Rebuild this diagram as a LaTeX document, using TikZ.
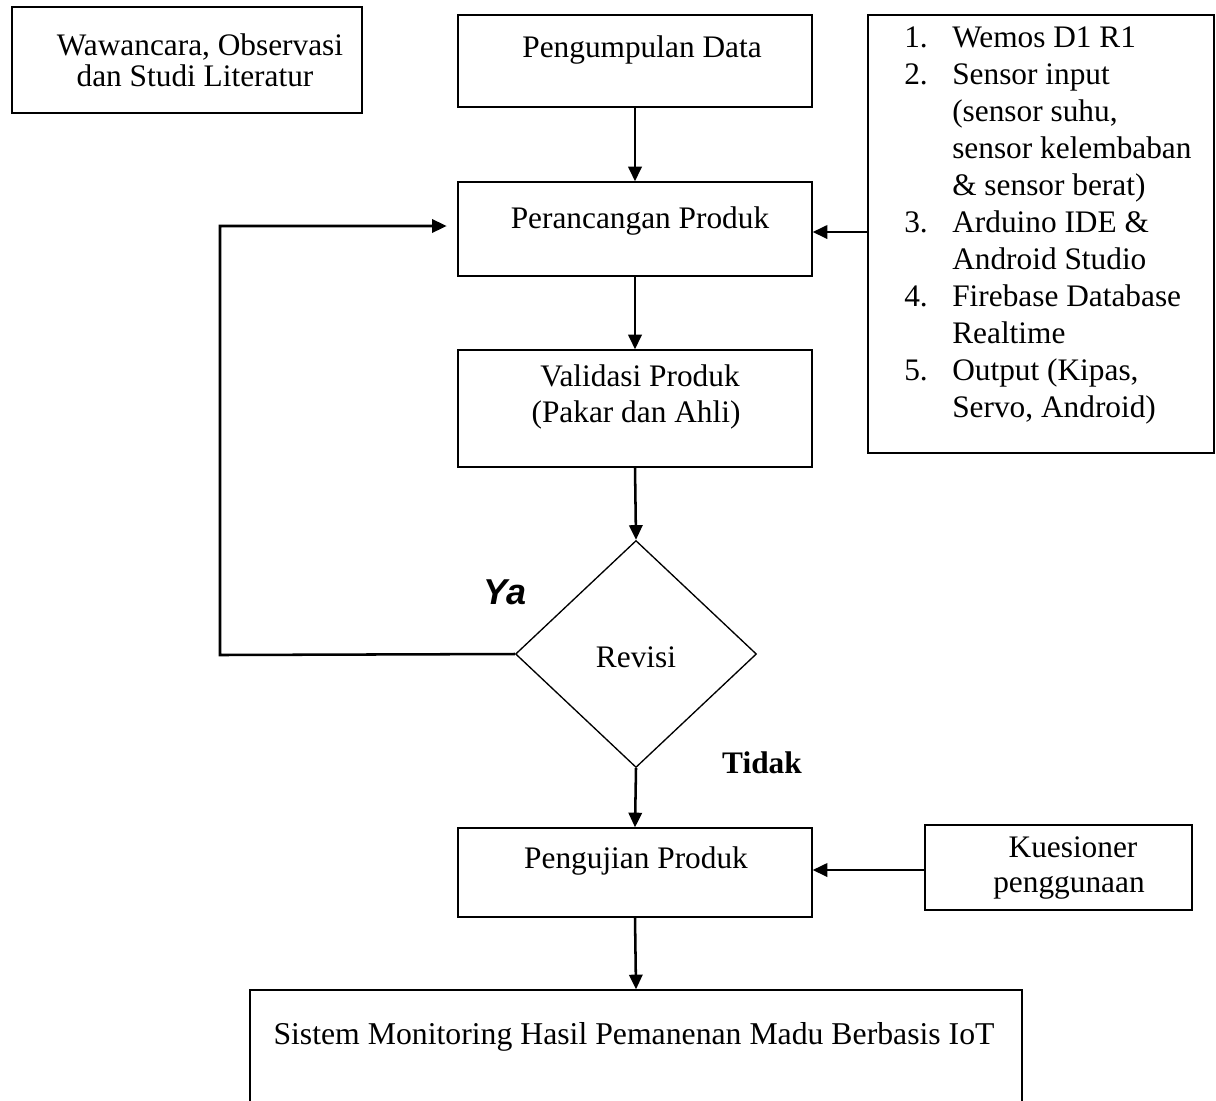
\documentclass[tikz,border=0pt]{standalone}
\usepackage{fontspec}
\setmainfont{Liberation Serif}
\newfontfamily\arialfont{Liberation Sans}
\usetikzlibrary{arrows.meta,shapes.geometric}
\begin{document}
\begin{tikzpicture}[x=0.75pt,y=-0.75pt,
  box/.style={draw, line width=1pt, rectangle, inner sep=0pt},
  txt/.style={font=\fontsize{23.5}{27}\selectfont, anchor=base, inner sep=0pt},
  arr/.style={line width=1.9pt, -{Triangle[length=11pt,width=10pt]}},
  ln/.style={line width=1.9pt}]
\useasboundingbox (0,0) rectangle (1216,1100);
\fill[white] (0,0) rectangle (1216,1100);

% boxes
\node[box, minimum width=262.5pt, minimum height=79.5pt] (A) at (187,60) {};
\node[box, minimum width=265.5pt, minimum height=69pt] (B) at (635,61) {};
\node[box, minimum width=265.5pt, minimum height=70.5pt] (C) at (635,229) {};
\node[box, minimum width=265.5pt, minimum height=87.75pt] (D) at (635,408.5) {};
\node[draw, line width=1pt, diamond, inner sep=0pt, minimum width=180.75pt, minimum height=170.25pt] (R) at (636,654) {};
\node[box, minimum width=265.5pt, minimum height=66.75pt] (E) at (635,872.5) {};
\node[box, minimum width=200.25pt, minimum height=63.75pt] (K) at (1058.5,867.5) {};
\node[box, minimum width=259.5pt, minimum height=328.5pt] (L) at (1041,234) {};
\node[box, minimum width=579pt, minimum height=105pt] (F) at (636,1060) {};

% texts
\node[txt] (tA1) at (200,55) {Wawancara, Observasi};
\node[txt] (tA2) at (195,86) {dan Studi Literatur};
\node[txt] (tB) at (642,57) {Pengumpulan Data};
\node[txt] (tC) at (640,228) {Perancangan Produk};
\node[txt] (tD1) at (640,386) {Validasi Produk};
\node[txt] (tD2) at (636,422) {(Pakar dan Ahli)};
\node[txt] (tR) at (636,667) {Revisi};
\node[txt] (tE) at (636,868) {Pengujian Produk};
\node[txt] (tK1) at (1073,857) {Kuesioner};
\node[txt] (tK2) at (1069,892) {penggunaan};
\node[txt, font=\fontsize{23.8}{27}\selectfont] (tF) at (634,1044) {Sistem Monitoring Hasil Pemanenan Madu Berbasis IoT};
\node[txt, font=\arialfont\bfseries\itshape\fontsize{27}{30}\selectfont] (ya) at (505,604) {Ya};
\node[txt, font=\bfseries\fontsize{23.5}{27}\selectfont] (tidak) at (762,773) {Tidak};

% list
\foreach \n/\k in {1./0, 2./1, 3./5, 4./7, 5./9}
  \node[txt, anchor=base west] at (904,47+37*\k) {\n};
\foreach \t [count=\i from 0] in {{Wemos D1 R1},{Sensor input},{(sensor suhu,},{sensor kelembaban},{\& sensor berat)},{Arduino IDE \&},{Android Studio},{Firebase Database},{Realtime},{Output (Kipas,},{Servo, Android)}}
  \node[txt, anchor=base west] at (952,47+37*\i) {\t};

% connectors
\draw[arr] (B.south) -- (C.north);
\draw[arr] (C.south) -- (D.north);
\draw[arr] (D.south) -- (R.north);
\draw[arr] (R.south) -- (E.north);
\draw[arr] (E.south) -- (F.north);
\draw[arr] (L.west |- 0,232) -- (C.east |- 0,232);
\draw[arr] (K.west |- 0,870) -- (E.east |- 0,870);
\coordinate (y1) at (220,655);
\coordinate (y2) at (220,226);
\draw[arr, shorten >=8pt] (R.west) -- (y1) -- (y2) -- (C.west |- y2);
\end{tikzpicture}
\end{document}
